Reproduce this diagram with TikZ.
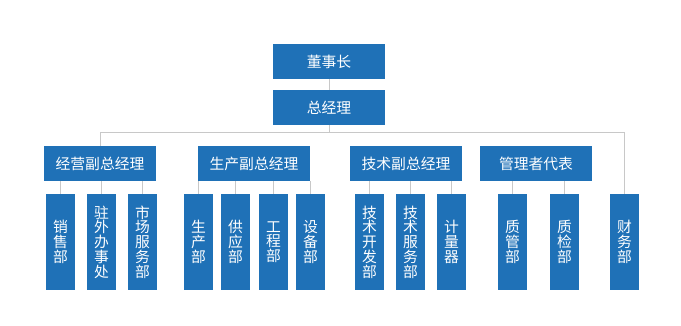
\documentclass[tikz,border=0pt]{standalone}
\usepackage{fontspec}
\newfontfamily\cjk{Noto Sans CJK SC}
\definecolor{boxblue}{RGB}{31,113,183}
\definecolor{linegray}{RGB}{200,200,200}
\begin{document}
\begin{tikzpicture}[x=1pt,y=-1pt,
  box/.style={fill=boxblue, draw=none, text=white, inner sep=0pt, font=\cjk\fontsize{14.8}{14.8}\selectfont, align=center},
  wide/.style={box, minimum width=112pt, minimum height=35pt},
  tall/.style={box, minimum width=29pt, minimum height=96pt},
  conn/.style={draw=linegray, line width=1pt}]
\useasboundingbox (0,0) rectangle (681,326);
\node[wide] (dsz) at (329,61.5) {董事长};
\node[wide] (zjl) at (329,107.5) {总经理};
\node[wide] (jy) at (100,163.5) {经营副总经理};
\node[wide] (sc) at (254,163.5) {生产副总经理};
\node[wide] (js) at (406,163.5) {技术副总经理};
\node[wide] (gl) at (536,163.5) {管理者代表};
\node[tall] (xs) at (60.5,242) {销\\售\\部};
\node[tall] (zw) at (101.5,242) {驻\\外\\办\\事\\处};
\node[tall] (scfw) at (142.5,242) {市\\场\\服\\务\\部};
\node[tall] (scb) at (198.5,242) {生\\产\\部};
\node[tall] (gy) at (235.5,242) {供\\应\\部};
\node[tall] (gc) at (273.5,242) {工\\程\\部};
\node[tall] (sb) at (310.5,242) {设\\备\\部};
\node[tall] (jskf) at (369.5,242) {技\\术\\开\\发\\部};
\node[tall] (jsfw) at (410.5,242) {技\\术\\服\\务\\部};
\node[tall] (jlq) at (451.5,242) {计\\量\\器};
\node[tall] (zg) at (512.5,242) {质\\管\\部};
\node[tall] (zj) at (564.5,242) {质\\检\\部};
\node[tall] (cw) at (624.5,242) {财\\务\\部};
\coordinate (hl) at (101,133);
\coordinate (hr) at (624.5,133);
\draw[conn] (dsz.south) -- (zjl.north);
\draw[conn] (zjl.south) -- (zjl.south |- hl);
\draw[conn] (jy.north) -- (jy.north |- hl) -- (hr) -- (cw.north);
\foreach \c/\p in {xs/jy,zw/jy,scfw/jy,scb/sc,gy/sc,gc/sc,sb/sc,jskf/js,jsfw/js,jlq/js,zg/gl,zj/gl}
  \draw[conn] (\c.north) -- (\c.north |- \p.south);
\end{tikzpicture}
\end{document}
